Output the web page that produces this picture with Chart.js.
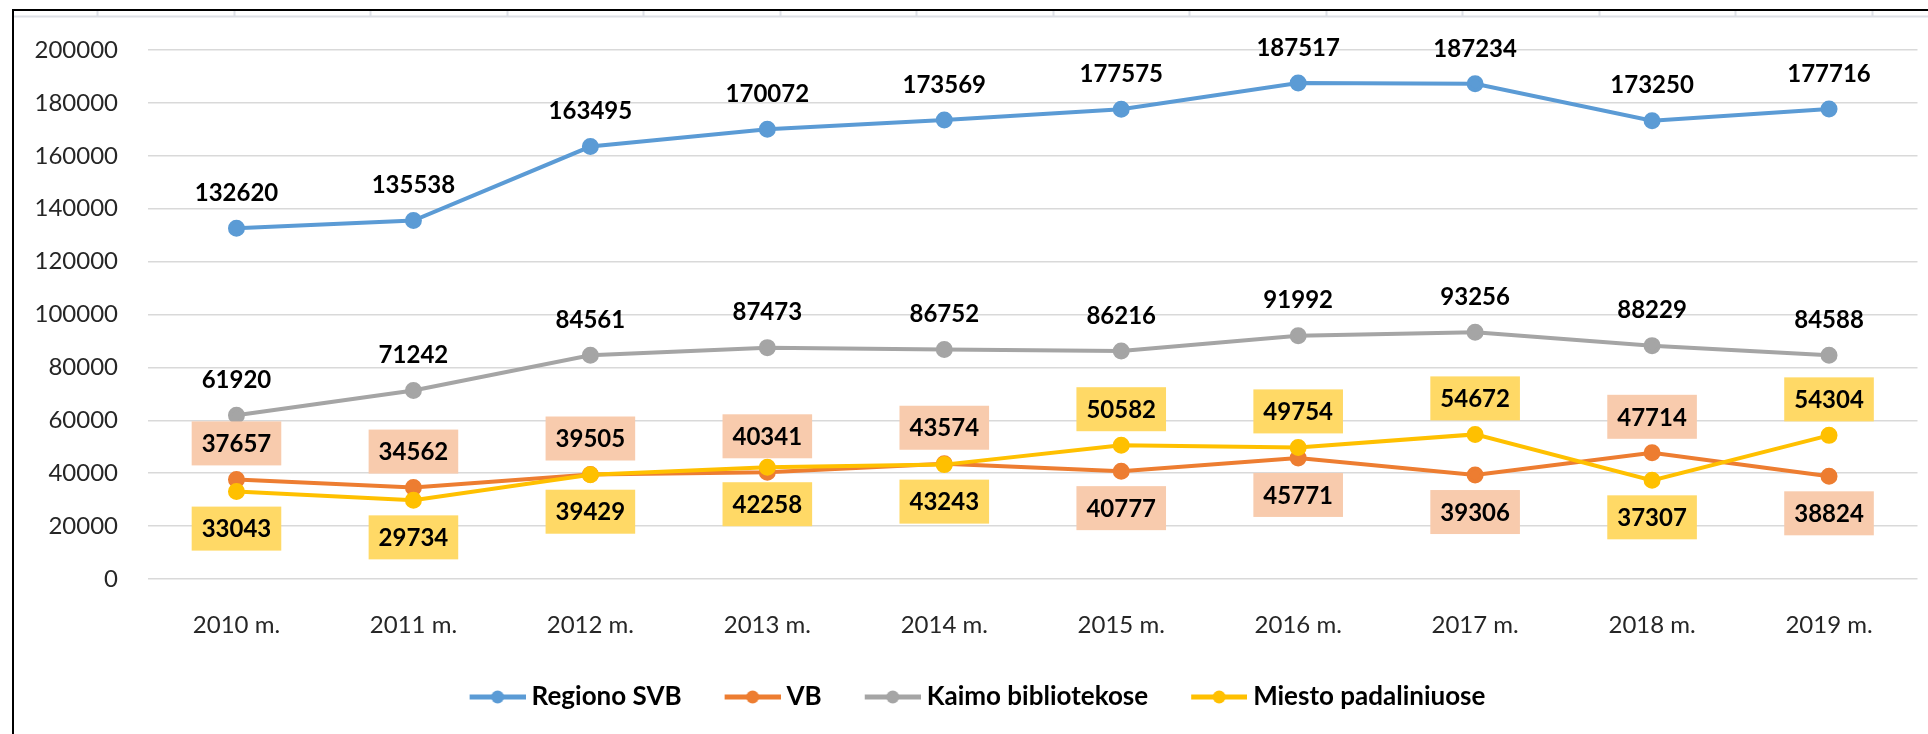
<!DOCTYPE html>
<html>
<head>
<meta charset="utf-8">
<script src="https://cdn.jsdelivr.net/npm/chart.js@4.4.1/dist/chart.umd.min.js"></script>
<style>
  html, body { margin: 0; padding: 0; background: #fff; }
  #wrap { width: 1928px; height: 734px; }
</style>
</head>
<body>
<div id="wrap"><canvas id="chart" width="1928" height="734"></canvas></div>
<script>
const years = ['2010 m.', '2011 m.', '2012 m.', '2013 m.', '2014 m.', '2015 m.', '2016 m.', '2017 m.', '2018 m.', '2019 m.'];
const regionoSVB = [132620, 135538, 163495, 170072, 173569, 177575, 187517, 187234, 173250, 177716];
const vb = [37657, 34562, 39505, 40341, 43574, 40777, 45771, 39306, 47714, 38824];
const kaimo = [61920, 71242, 84561, 87473, 86752, 86216, 91992, 93256, 88229, 84588];
const miesto = [33043, 29734, 39429, 42258, 43243, 50582, 49754, 54672, 37307, 54304];
const yTicks = [0, 20000, 40000, 60000, 80000, 100000, 120000, 140000, 160000, 180000, 200000];

// which side of the point the value label sits on
const vbSide = ['up', 'up', 'up', 'up', 'up', 'down', 'down', 'down', 'up', 'down'];
const miestoSide = ['down', 'down', 'down', 'down', 'down', 'up', 'up', 'up', 'down', 'up'];

const FONT = 'Lato';
const PAD_LEFT = 0;

// legend marker: line with a dot, drawn at the right end of a wider transparent image
function legendMarker(color) {
    const c = document.createElement('canvas');
    c.width = 92;
    c.height = 16;
    const g = c.getContext('2d');
    g.strokeStyle = color;
    g.lineWidth = 5;
    g.beginPath();
    g.moveTo(36, 8);
    g.lineTo(92, 8);
    g.stroke();
    g.fillStyle = color;
    g.beginPath();
    g.arc(64, 8, 6.5, 0, Math.PI * 2);
    g.fill();
    return c;
}

function series(label, data, color, order, side, boxColor) {
    return {
        label: label,
        data: data,
        borderColor: color,
        backgroundColor: color,
        pointBackgroundColor: color,
        pointBorderColor: color,
        borderWidth: 4,
        pointRadius: 6.5,
        pointHoverRadius: 6.5,
        tension: 0,
        order: order,
        legendStyle: legendMarker(color),
        side: side,
        boxColor: boxColor
    };
}

// Excel sheet frame around the chart
const framePlugin = {
    id: 'frame',
    beforeDraw(chart) {
        const ctx = chart.ctx;
        ctx.save();
        ctx.fillStyle = '#fff';
        ctx.fillRect(0, 0, chart.width, chart.height);
        ctx.strokeStyle = '#dde0e6';
        ctx.lineWidth = 2;
        ctx.beginPath();
        ctx.moveTo(14, 16.5);
        ctx.lineTo(chart.width, 16.5);
        for (let x = 97; x < chart.width; x += 136.5) {
            ctx.moveTo(Math.round(x) + 0.5, 10);
            ctx.lineTo(Math.round(x) + 0.5, 17);
        }
        ctx.stroke();
        ctx.strokeStyle = '#000';
        ctx.lineWidth = 2;
        ctx.beginPath();
        ctx.moveTo(12, 10);
        ctx.lineTo(chart.width, 10);
        ctx.moveTo(13, 10);
        ctx.lineTo(13, chart.height);
        ctx.stroke();
        ctx.restore();
    }
};

const valueLabels = {
    id: 'valueLabels',
    afterDatasetsDraw(chart) {
        const ctx = chart.ctx;
        ctx.save();
        ctx.font = 'bold 24px ' + FONT;
        ctx.textAlign = 'center';
        ctx.textBaseline = 'middle';
        chart.data.datasets.forEach((ds, i) => {
            const meta = chart.getDatasetMeta(i);
            meta.data.forEach((pt, j) => {
                const text = String(ds.data[j]);
                const down = ds.side && ds.side[j] === 'down';
                const cy = pt.y + (down ? 37 : -36);
                if (ds.boxColor) {
                    const w = ctx.measureText(text).width + 20;
                    ctx.fillStyle = ds.boxColor;
                    ctx.fillRect(pt.x - w / 2, cy - 22, w, 44);
                }
                ctx.fillStyle = '#000';
                ctx.fillText(text, pt.x, cy + 1);
            });
        });
        ctx.restore();
    }
};

const ctx = document.getElementById('chart').getContext('2d');
window.myChart = new Chart(ctx, {
    type: 'line',
    data: {
        labels: years,
        datasets: [
            series('Regiono SVB', regionoSVB, '#5B9BD5', 3),
            series('VB', vb, '#ED7D31', 2, vbSide, '#F8CBAD'),
            series('Kaimo bibliotekose', kaimo, '#A5A5A5', 1),
            series('Miesto padaliniuose', miesto, '#FFC000', 0, miestoSide, '#FFD966')
        ]
    },
    options: {
        responsive: false,
        animation: false,
        devicePixelRatio: 1,
        layout: { padding: { top: 50, right: 2, bottom: 14, left: PAD_LEFT } },
        plugins: {
            tooltip: { enabled: false },
            legend: {
                position: 'bottom',
                labels: {
                    usePointStyle: true,
                    pointStyleWidth: 78,
                    padding: 14,
                    color: '#000',
                    font: { family: FONT, size: 26, weight: 'bold' },
                    sort: (a, b) => a.datasetIndex - b.datasetIndex,
                    generateLabels(chart) {
                        return chart.data.datasets.map((ds, i) => ({
                            text: ds.label,
                            fillStyle: ds.borderColor,
                            strokeStyle: ds.borderColor,
                            lineWidth: 0,
                            pointStyle: ds.legendStyle,
                            hidden: false,
                            datasetIndex: i
                        }));
                    }
                }
            }
        },
        scales: {
            x: {
                offset: true,
                grid: { display: false, drawTicks: false },
                border: { display: false },
                ticks: { padding: 32, color: '#262626', font: { family: FONT, size: 24 } },
                afterFit(s) { s.height = 91; }
            },
            y: {
                min: 0,
                max: 200000,
                afterBuildTicks(s) { s.ticks = yTicks.map(v => ({ value: v })); },
                grid: { color: '#d9d9d9', lineWidth: 1.5, drawTicks: false },
                border: { display: false },
                ticks: {
                    padding: 30,
                    color: '#262626',
                    font: { family: FONT, size: 24 },
                    callback: v => String(v)
                },
                afterFit(s) { s.width = 148 - PAD_LEFT; }
            }
        }
    },
    plugins: [framePlugin, valueLabels]
});
</script>
</body>
</html>
